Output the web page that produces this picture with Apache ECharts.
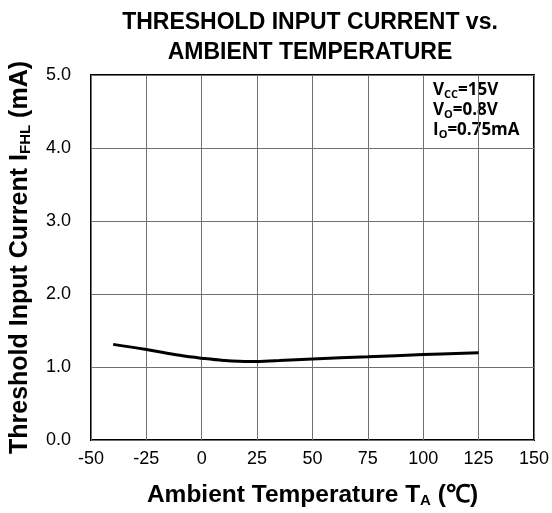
<!DOCTYPE html>
<html>
<head>
<meta charset="utf-8">
<script src="https://cdn.jsdelivr.net/npm/echarts@6/dist/echarts.min.js"></script>
<style>html,body{margin:0;padding:0;background:#fff}#c{width:552px;height:513px}</style>
</head>
<body>
<div id="c"></div>
<script>
var temperatures = [-40, -25, -10, 0, 10, 22, 35, 50, 75, 100, 125];
var currents = [1.31, 1.24, 1.16, 1.12, 1.09, 1.075, 1.09, 1.11, 1.14, 1.17, 1.195];
var xTicks = [-50, -25, 0, 25, 50, 75, 100, 125, 150];
var yTicks = [0, 1, 2, 3, 4, 5];
var conditions = [['V', 'CC', '=15V'], ['V', 'O', '=0.8V'], ['I', 'O', '=0.75mA']];

var chart = echarts.init(document.getElementById('c'));
var F = 'Liberation Sans, Arial, sans-serif';
var condText = conditions.map(function (c) { return '{m|' + c[0] + '}{s|' + c[1] + '}{m|' + c[2] + '}'; }).join('\n');
function nameRich(big, small, pad) {
  return {
    b: { fontFamily: F, fontWeight: 'bold', fontSize: big, color: '#000' },
    bs: { fontFamily: F, fontWeight: 'bold', fontSize: small, color: '#000', verticalAlign: 'bottom', padding: [pad, 0, 0, 0] }
  };
}
chart.setOption({
  animation: false,
  title: {
    text: 'THRESHOLD INPUT CURRENT vs.\nAMBIENT TEMPERATURE',
    left: 305, top: 3, textAlign: 'center',
    textStyle: { fontFamily: F, fontWeight: 'bold', fontSize: 23, lineHeight: 30, color: '#000' }
  },
  grid: { left: 89, right: 17, top: 75, bottom: 71, show: true, borderColor: '#000', borderWidth: 2, backgroundColor: 'transparent' },
  xAxis: {
    type: 'value', min: xTicks[0], max: xTicks[xTicks.length - 1], interval: 25,
    axisLine: { show: false }, axisTick: { show: false },
    splitLine: { show: true, lineStyle: { color: '#707070', width: 1 } },
    axisLabel: { fontFamily: F, fontSize: 18, color: '#000', margin: 10 },
    name: '{b|Ambient Temperature T}{bs|A}{b| (℃)}', nameLocation: 'middle', nameGap: 43,
    nameTextStyle: { rich: nameRich(24.5, 15, 10) }
  },
  yAxis: {
    type: 'value', min: yTicks[0], max: yTicks[yTicks.length - 1], interval: 1,
    axisLine: { show: false }, axisTick: { show: false },
    splitLine: { show: true, lineStyle: { color: '#707070', width: 1 } },
    axisLabel: { fontFamily: F, fontSize: 18, color: '#000', margin: 20, formatter: function (v) { return v.toFixed(1); } },
    name: '{b|Threshold Input Current I}{bs|FHL}{b| (mA)}', nameLocation: 'middle', nameGap: 58,
    nameTextStyle: { rich: nameRich(25, 15, 10) }
  },
  graphic: [{
    type: 'text', left: 433, top: 82,
    style: {
      text: condText,
      rich: {
        m: { fontFamily: 'Open Sans, sans-serif', fontWeight: 'bold', fontSize: 17, color: '#000', lineHeight: 20 },
        s: { fontFamily: 'Open Sans, sans-serif', fontWeight: 'bold', fontSize: 11, color: '#000', lineHeight: 20, verticalAlign: 'bottom', padding: [7, 0, 0, 0] }
      }
    }
  }],
  series: [{
    type: 'line', data: temperatures.map(function (t, i) { return [t, currents[i]]; }),
    smooth: 0.4, showSymbol: false, lineStyle: { color: '#000', width: 3 }
  }]
});
</script>
</body>
</html>
